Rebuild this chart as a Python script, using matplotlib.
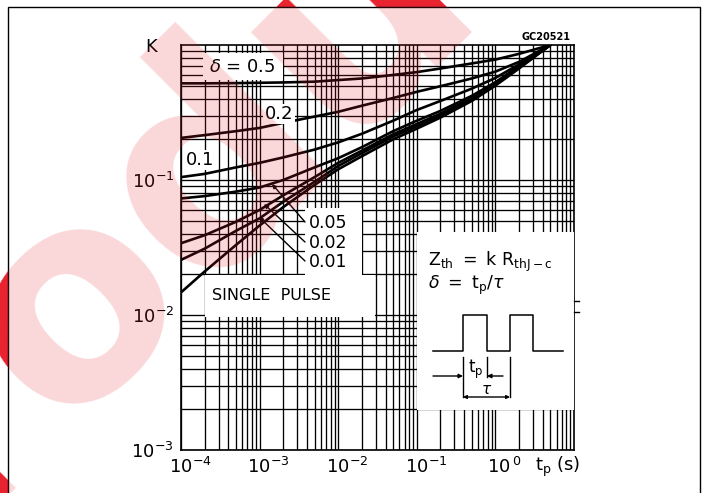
import numpy as np
import matplotlib
matplotlib.use("Agg")
import matplotlib.pyplot as plt
from matplotlib.patches import Rectangle
from matplotlib.ticker import LogLocator, NullFormatter
from matplotlib.transforms import ScaledTranslation

plt.rcParams['font.family'] = ['DejaVu Sans']
plt.rcParams['mathtext.fontset'] = 'dejavusans'

# -------------------------
# Data
# -------------------------
tp = [1e-4, 2e-4, 5e-4, 1e-3, 2e-3, 5e-3, 1e-2, 2e-2, 5e-2, 0.1, 0.2, 0.5, 1.0, 2.0, 5.0]
k_d05 = [0.52, 0.52, 0.522, 0.525, 0.528, 0.535, 0.55, 0.565, 0.60, 0.63, 0.67, 0.73, 0.78, 0.86, 1.0]
k_d02 = [0.205, 0.215, 0.23, 0.243, 0.265, 0.295, 0.32, 0.355, 0.405, 0.45, 0.495, 0.565, 0.635, 0.75, 1.0]
k_d01 = [0.105, 0.111, 0.124, 0.134, 0.147, 0.168, 0.19, 0.22, 0.275, 0.33, 0.385, 0.475, 0.57, 0.72, 1.0]
k_d005 = [0.073, 0.076, 0.082, 0.088, 0.10, 0.124, 0.145, 0.175, 0.23, 0.275, 0.325, 0.42, 0.53, 0.70, 1.0]
k_d002 = [0.034, 0.039, 0.049, 0.060, 0.077, 0.105, 0.134, 0.165, 0.218, 0.26, 0.31, 0.405, 0.52, 0.69, 1.0]
k_d001 = [0.0256, 0.031, 0.042, 0.052, 0.069, 0.097, 0.127, 0.158, 0.21, 0.25, 0.30, 0.395, 0.51, 0.68, 1.0]
k_single = [0.0147, 0.021, 0.033, 0.046, 0.063, 0.092, 0.12, 0.15, 0.20, 0.24, 0.29, 0.385, 0.50, 0.67, 1.0]

xticks = [1e-4, 1e-3, 1e-2, 1e-1, 1e0]
xtick_labels = [r'$10^{-4}$', r'$10^{-3}$', r'$10^{-2}$', r'$10^{-1}$', r'$10^{\,0}$']
yticks = [1e-3, 1e-2, 1e-1]
ytick_labels = [r'$10^{-3}$', r'$10^{-2}$', r'$10^{-1}$']

W, H = 715, 493


def px_rect(x0, y0, x1, y1):
    # pixel box (top-left origin) -> figure fraction rect
    return [x0 / W, 1 - y1 / H, (x1 - x0) / W, (y1 - y0) / H]


fig = plt.figure(figsize=(W / 100, H / 100), dpi=100)

# -------------------------
# Background: page frame + watermark
# -------------------------
bg = fig.add_axes([0, 0, 1, 1], zorder=-2)
bg.set_xlim(0, W)
bg.set_ylim(H, 0)
bg.axis('off')


def watermark(axx, alpha, clip):
    axx.text(-190, 668, "Product", rotation=45, rotation_mode='anchor',
             ha='left', va='baseline', fontsize=205, fontweight='bold',
             family='DejaVu Sans', color='#e8222e', alpha=alpha, clip_on=clip,
             zorder=0)


watermark(bg, 1.0, False)
bg.add_patch(Rectangle((8, 7), 692, H, facecolor='white', edgecolor='black',
                       lw=1.0, zorder=1))

# -------------------------
# Main log-log graph
# -------------------------
ax = fig.add_axes(px_rect(181, 45, 574, 450), zorder=0)
ax.set_facecolor('none')
ax.set_xscale('log')
ax.set_yscale('log')
ax.set_xlim(1e-4, 1e1)
ax.set_ylim(1e-3, 1)
for a in (ax.xaxis, ax.yaxis):
    a.set_minor_locator(LogLocator(base=10, subs=np.arange(2, 10), numticks=100))
    a.set_minor_formatter(NullFormatter())
ax.grid(True, which='both', color='black', lw=0.95)
ax.tick_params(which='both', length=0, labelsize=13)
ax.tick_params(axis='x', pad=5)
ax.tick_params(axis='y', pad=5)
ax.set_xticks(xticks, xtick_labels)
ax.set_yticks(yticks, ytick_labels)
for lab in ax.get_xticklabels():
    lab.set_transform(lab.get_transform() + ScaledTranslation(9 / 100, 0, fig.dpi_scale_trans))
for s in ax.spines.values():
    s.set_linewidth(1.2)

for k in (k_d05, k_d02, k_d01, k_d005, k_d002, k_d001, k_single):
    ax.plot(tp, k, color='black', lw=1.9, zorder=4, solid_capstyle='round',
            solid_joinstyle='round')

# -------------------------
# Labels, boxes and the pulse sketch (pixel overlay)
# -------------------------
ov = fig.add_axes([0, 0, 1, 1], zorder=1)
ov.set_xlim(0, W)
ov.set_ylim(H, 0)
ov.axis('off')

for (x0, y0, x1, y1) in [(203, 53, 283, 80), (305, 208, 362, 275),
                         (205, 275, 375, 317), (417, 232, 574, 410)]:
    ov.add_patch(Rectangle((x0, y0), x1 - x0, y1 - y0, facecolor='white', edgecolor='none'))

ov.text(151, 47, "K", fontsize=13, ha='center', va='center')
ov.text(546, 37, "GC20521", fontsize=7, fontweight='bold', ha='center', va='center')
ov.text(535, 467, r"$\mathregular{t_p\ (s)}$", fontsize=13, ha='left', va='center')

ov.text(242, 67, r"$\delta$ = 0.5", fontsize=13, ha='center', va='center')
ov.text(279, 114, "0.2", fontsize=13, ha='center', va='center',
        bbox=dict(facecolor='white', edgecolor='none', pad=1))
ov.text(200, 160, "0.1", fontsize=13, ha='center', va='center',
        bbox=dict(facecolor='white', edgecolor='none', pad=1))
for lab, yy in [("0.05", 223), ("0.02", 243), ("0.01", 262)]:
    ov.text(309, yy, lab, fontsize=12.5, ha='left', va='center')
ov.text(212, 296, "SINGLE  PULSE", fontsize=11.5, ha='left', va='center')

# leader lines to the 0.05 / 0.02 / 0.01 curves
for (x0, y0, x1, y1) in [(305, 222, 272, 184), (305, 242, 264, 204), (305, 261, 259, 217)]:
    ov.annotate("", xy=(x1, y1), xytext=(x0, y0),
                arrowprops=dict(arrowstyle='-|>', color='black', lw=1.0,
                                mutation_scale=6, shrinkA=0, shrinkB=0))

ov.text(428, 262, r"$\mathregular{Z_{th}\ =\ k\ R_{thJ-c}}$", fontsize=12.5, ha='left', va='center')
ov.text(428, 285, r"$\delta\mathregular{\ =\ t_p/}\tau$", fontsize=12.5, ha='left', va='center')

ov.plot([433, 463, 463, 487, 487, 510, 510, 533, 533, 563],
        [351, 351, 315, 315, 351, 351, 315, 315, 351, 351], color='black', lw=1.1)
ov.plot([463, 463], [357, 397], color='black', lw=1.0)
ov.plot([487, 487], [357, 377], color='black', lw=1.0)
ov.plot([510, 510], [357, 397], color='black', lw=1.0)
arw = dict(arrowstyle='-|>', color='black', lw=1.0, mutation_scale=6, shrinkA=0, shrinkB=0)
ov.annotate("", xy=(463, 376), xytext=(433, 376), arrowprops=arw)
ov.annotate("", xy=(487, 376), xytext=(503, 376), arrowprops=arw)
ov.annotate("", xy=(463, 397), xytext=(510, 397),
            arrowprops=dict(arrowstyle='<|-|>', color='black', lw=1.0, mutation_scale=5,
                            shrinkA=0, shrinkB=0))
ov.text(476, 369, r"$\mathregular{t_p}$", fontsize=12, ha='center', va='center')
ov.text(487, 389, r"$\tau$", fontsize=11, ha='center', va='center')
ov.plot([574, 579], [301, 301], color='black', lw=1.0)
ov.plot([574, 579], [312, 312], color='black', lw=1.0)

# watermark overlay (pale over the page)
top = fig.add_axes(px_rect(8, 7, 700, H), zorder=5)
top.set_xlim(8, 700)
top.set_ylim(H, 7)
top.axis('off')
watermark(top, 0.18, True)

fig.savefig("out.png", dpi=100)
